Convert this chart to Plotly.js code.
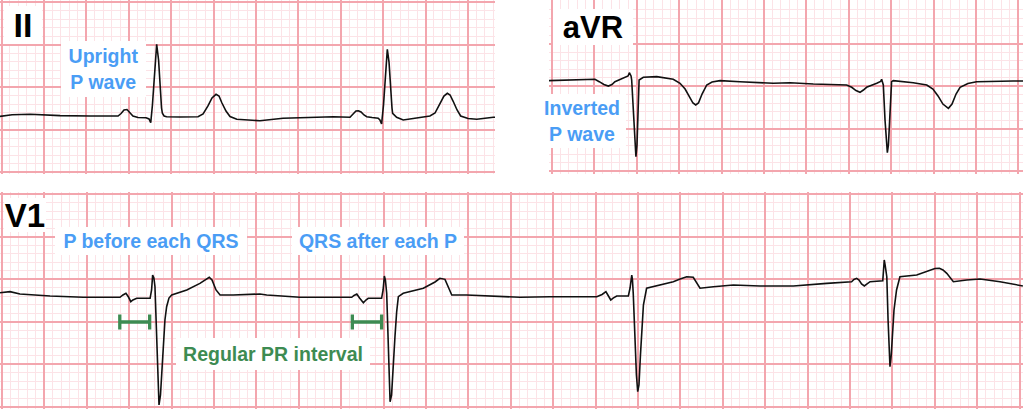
<!DOCTYPE html>
<html>
<head>
<meta charset="utf-8">
<script src="https://cdn.plot.ly/plotly-3.0.1.min.js"></script>
<style>html,body{margin:0;padding:0;background:#fff;}#chart{width:1023px;height:414px;}</style>
</head>
<body>
<div id="chart"></div>
<script>
// ---------- DATA (time in s, amplitude in mV) ----------
// Lead II
const ii_t = [
  0, 0.057, 0.142, 0.283, 0.425, 0.557, 0.571, 0.585, 0.599, 0.613,
  0.627, 0.651, 0.689, 0.703, 0.711, 0.719, 0.729, 0.739, 0.748, 0.755,
  0.762, 0.766, 0.774, 0.786, 0.849, 0.934, 0.958, 0.981, 1.000, 1.019,
  1.033, 1.047, 1.066, 1.085, 1.117, 1.226, 1.335, 1.494, 1.572, 1.651,
  1.665, 1.679, 1.690, 1.703, 1.717, 1.730, 1.755, 1.784, 1.792, 1.800,
  1.809, 1.818, 1.827, 1.835, 1.842, 1.849, 1.852, 1.871, 1.902, 1.997,
  2.028, 2.052, 2.075, 2.094, 2.110, 2.123, 2.137, 2.156, 2.173, 2.208,
  2.249, 2.288, 2.327, 2.335
];
const ii_mv = [
  -0.004, 0.015, 0.020, 0.004, 0.000, 0.000, 0.029, 0.071, 0.076, 0.041,
  0.000, -0.018, -0.021, -0.035, -0.079, 0.129, 0.541, 0.844, 0.659, 0.306,
  0.094, 0.032, 0.000, -0.008, -0.012, -0.008, 0.024, 0.118, 0.212, 0.255,
  0.235, 0.153, 0.059, -0.006, -0.039, -0.055, -0.027, -0.015, -0.008, -0.015,
  0.024, 0.059, 0.062, 0.047, 0.012, -0.008, -0.018, -0.027, -0.047, -0.094,
  0.129, 0.482, 0.785, 0.635, 0.306, 0.094, 0.032, -0.015, -0.047, -0.015,
  0.000, 0.035, 0.141, 0.235, 0.267, 0.247, 0.176, 0.071, 0.000, -0.029,
  -0.039, -0.024, -0.015, -0.015
];
// Lead aVR
const avr_t = [
  0, 0.115, 0.217, 0.237, 0.259, 0.280, 0.297, 0.311, 0.350, 0.373,
  0.379, 0.387, 0.390, 0.399, 0.406, 0.410, 0.415, 0.420, 0.425, 0.445,
  0.508, 0.586, 0.618, 0.642, 0.665, 0.679, 0.692, 0.705, 0.722, 0.744,
  0.769, 0.807, 0.901, 1.058, 1.137, 1.247, 1.404, 1.428, 1.448, 1.467,
  1.483, 1.498, 1.546, 1.564, 1.569, 1.577, 1.585, 1.592, 1.596, 1.601,
  1.608, 1.616, 1.624, 1.718, 1.782, 1.811, 1.835, 1.858, 1.884, 1.901,
  1.920, 1.939, 1.976, 2.017, 2.190, 2.236
];
const avr_mv = [
  0.004, 0.012, 0.020, -0.008, -0.041, -0.059, -0.041, -0.008, 0.032, 0.059,
  0.098, 0.059, 0.012, -0.400, -0.753, -0.891, -0.753, -0.341, 0.012, 0.044,
  0.051, 0.020, -0.027, -0.094, -0.200, -0.259, -0.282, -0.259, -0.153, -0.047,
  -0.012, 0.004, -0.008, -0.027, -0.020, -0.035, -0.047, -0.074, -0.112, -0.133,
  -0.106, -0.074, -0.027, -0.006, 0.020, -0.047, -0.459, -0.753, -0.844, -0.753,
  -0.400, -0.008, 0.004, -0.020, -0.047, -0.094, -0.176, -0.271, -0.321, -0.271,
  -0.153, -0.074, -0.029, -0.008, 0.000, 0.000
];
// Lead V1
const v1_t = [
  0, 0.047, 0.094, 0.236, 0.393, 0.566, 0.580, 0.594, 0.606, 0.617,
  0.627, 0.645, 0.708, 0.715, 0.720, 0.726, 0.731, 0.738, 0.744, 0.750,
  0.757, 0.764, 0.770, 0.778, 0.786, 0.797, 0.810, 0.881, 0.943, 0.967,
  0.987, 1.000, 1.019, 1.038, 1.100, 1.226, 1.258, 1.415, 1.659, 1.670,
  1.683, 1.696, 1.714, 1.726, 1.737, 1.800, 1.807, 1.813, 1.818, 1.824,
  1.830, 1.835, 1.840, 1.847, 1.854, 1.863, 1.871, 1.879, 1.902, 1.997,
  2.052, 2.075, 2.099, 2.113, 2.131, 2.201, 2.406, 2.453, 2.594, 2.815,
  2.840, 2.858, 2.870, 2.881, 2.892, 2.909, 2.964, 2.972, 2.980, 2.983,
  2.987, 2.995, 3.002, 3.008, 3.014, 3.021, 3.027, 3.035, 3.050, 3.082,
  3.176, 3.208, 3.239, 3.270, 3.285, 3.302, 3.365, 3.459, 3.585, 3.742,
  3.900, 4.017, 4.028, 4.041, 4.052, 4.064, 4.077, 4.090, 4.104, 4.164,
  4.167, 4.171, 4.175, 4.183, 4.189, 4.193, 4.198, 4.204, 4.210, 4.217,
  4.229, 4.245, 4.324, 4.387, 4.410, 4.431, 4.448, 4.466, 4.481, 4.497,
  4.560, 4.623, 4.717, 4.825
];
const v1_mv = [
  0.039, 0.051, 0.024, 0.000, -0.015, -0.015, 0.012, 0.032, -0.012, -0.067,
  -0.047, -0.027, -0.027, 0.071, 0.247, 0.212, 0.109, -0.400, -0.988, -1.282,
  -1.165, -0.871, -0.596, -0.282, -0.126, -0.024, 0.012, 0.071, 0.149, 0.188,
  0.220, 0.188, 0.071, 0.012, 0.012, 0.024, 0.012, -0.015, -0.015, 0.006,
  0.024, -0.024, -0.079, -0.047, -0.027, -0.027, 0.071, 0.235, 0.188, 0.032,
  -0.518, -1.047, -1.244, -1.165, -0.812, -0.479, -0.188, -0.008, 0.032, 0.091,
  0.165, 0.208, 0.196, 0.118, 0.012, 0.012, -0.008, -0.015, -0.008, -0.008,
  0.018, 0.051, 0.000, -0.047, -0.024, 0.000, 0.000, 0.094, 0.247, 0.200,
  0.032, -0.518, -0.929, -1.126, -1.047, -0.694, -0.400, -0.106, 0.091, 0.109,
  0.168, 0.200, 0.227, 0.220, 0.165, 0.091, 0.109, 0.129, 0.118, 0.118,
  0.149, 0.168, 0.194, 0.208, 0.188, 0.141, 0.118, 0.147, 0.168, 0.180,
  0.306, 0.424, 0.365, 0.227, -0.282, -0.635, -0.832, -0.694, -0.459, -0.165,
  0.071, 0.227, 0.247, 0.298, 0.324, 0.326, 0.306, 0.267, 0.212, 0.168,
  0.188, 0.200, 0.168, 0.118
];
// PR intervals marked on V1 (s)
const pr_start = [0.565, 1.662];
const pr_end   = [0.706, 1.800];

// Text labels
const lead_labels = ['II', 'aVR', 'V1'];
const note_texts = ['Upright<br>P wave', 'Inverted<br>P wave', 'P before each QRS', 'QRS after each P', 'Regular PR interval'];

// ---------- STYLE / LAYOUT ----------
const W = 1023, H = 414;
const fx = p => p / W;          // pixel -> paper x
const fy = p => 1 - p / H;      // pixel -> paper y
const MAJOR = '#f3a6ae', MINOR = '#fce3e7';
const BLUE = '#4a9df5', GREEN = '#3d8b52', INK = '#111111';
const FONT = 'Liberation Sans, Arial, Helvetica, sans-serif';
const PR_LEVEL = -0.306; // mV level of the PR markers (on a major line)

function xa(domain, range, tick0) {
  return {domain, range, tick0, dtick: 0.2, showgrid: true, gridcolor: MAJOR, gridwidth: 2,
    minor: {tick0, dtick: 0.04, showgrid: true, gridcolor: MINOR, gridwidth: 1},
    showticklabels: false, ticks: '', zeroline: false, showline: false, fixedrange: true};
}
function ya(domain, range, tick0, anchor) {
  return {domain, range, tick0, dtick: 0.5, showgrid: true, gridcolor: MAJOR, gridwidth: 2,
    minor: {tick0, dtick: 0.1, showgrid: true, gridcolor: MINOR, gridwidth: 1},
    showticklabels: false, ticks: '', zeroline: false, showline: false, fixedrange: true, anchor};
}

const line = {color: INK, width: 1.6};
const traces = [
  {x: ii_t, y: ii_mv, xaxis: 'x', yaxis: 'y', mode: 'lines', line, hoverinfo: 'skip'},
  {x: avr_t, y: avr_mv, xaxis: 'x2', yaxis: 'y2', mode: 'lines', line, hoverinfo: 'skip'},
  {x: v1_t, y: v1_mv, xaxis: 'x3', yaxis: 'y3', mode: 'lines', line, hoverinfo: 'skip'},
  {x: pr_start.map((s, i) => (s + pr_end[i]) / 2),
   y: pr_start.map(() => PR_LEVEL),
   xaxis: 'x3', yaxis: 'y3', mode: 'markers', marker: {size: 0.1, color: GREEN},
   error_x: {type: 'data', array: pr_start.map((s, i) => (pr_end[i] - s) / 2),
             color: GREEN, thickness: 3.3, width: 7.5},
   hoverinfo: 'skip'}
];

function box(text, cx, cy, w, h, size, color) {
  return {text, xref: 'paper', yref: 'paper', x: fx(cx), y: fy(cy), xanchor: 'center', yanchor: 'middle',
    width: w, height: h, showarrow: false, bgcolor: '#ffffff', borderpad: 0, borderwidth: 0,
    align: 'center', valign: 'middle', font: {family: FONT, size, color, weight: 700}};
}

const layout = {
  width: W, height: H, margin: {l: 0, r: 0, t: 0, b: 0},
  paper_bgcolor: '#ffffff', plot_bgcolor: '#ffffff', showlegend: false,
  xaxis: xa([0, fx(495)], [0, 495 / 212], 1.5 / 212),
  yaxis: ya([fy(174), 1], [(116 - 174) / 85, 116 / 85], (116 - 87) / 85, 'x'),
  xaxis2: xa([fx(549), 1], [0, 474 / 212], 3 / 212),
  yaxis2: ya([fy(174), 1], [(81 - 174) / 85, 81 / 85], (81 - 86) / 85, 'x2'),
  xaxis3: xa([0, 1], [0, 1023 / 212], 2 / 212),
  yaxis3: ya([fy(409), fy(192)], [(296 - 409) / 85, (296 - 192) / 85], 0.2, 'x3'),
  annotations: [
    box('<b>' + lead_labels[0] + '</b>', 22.5, 25, 38, 38, 34, '#000000'),
    box('<b>' + lead_labels[1] + '</b>', 592.5, 27, 80, 36, 31, '#000000'),
    box('<b>' + lead_labels[2] + '</b>', 25, 214.5, 42, 34, 33, '#000000'),
    box('<b>' + note_texts[0] + '</b>', 103.5, 69.5, 85, 56, 19.5, BLUE),
    box('<b>' + note_texts[1] + '</b>', 582, 121.5, 88, 54, 19.5, BLUE),
    box('<b>' + note_texts[2] + '</b>', 151, 241, 192, 28, 19.5, BLUE),
    box('<b>' + note_texts[3] + '</b>', 377.5, 241, 172, 28, 19.5, BLUE),
    box('<b>' + note_texts[4] + '</b>', 273, 353.5, 194, 32, 19.5, GREEN)
  ]
};

Plotly.newPlot('chart', traces, layout, {staticPlot: true, displayModeBar: false});
</script>
</body>
</html>
